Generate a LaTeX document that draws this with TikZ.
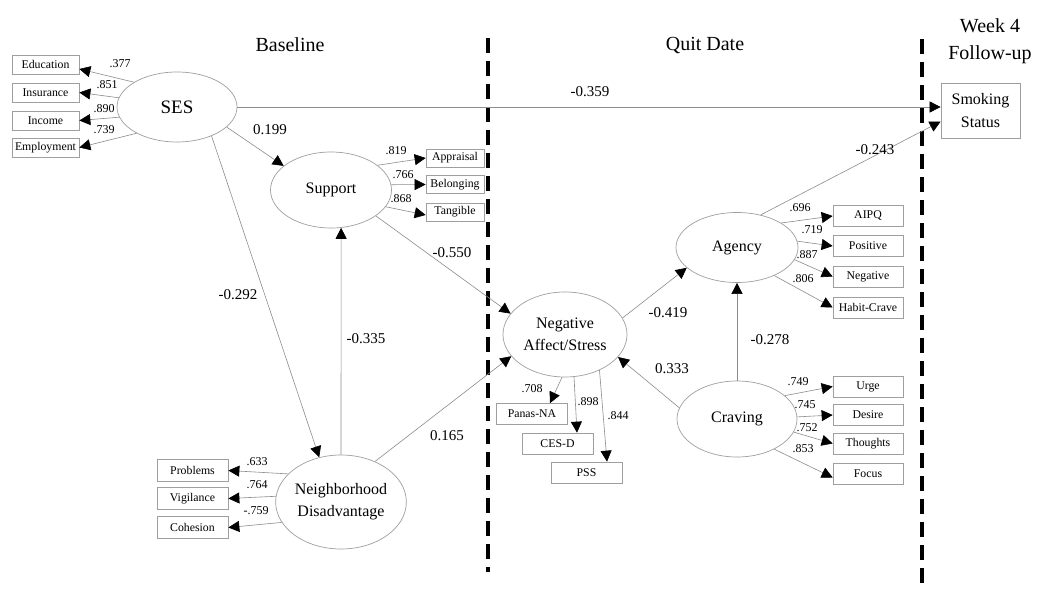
\documentclass[tikz,border=0pt]{standalone}
\usepackage{fontspec}
\setmainfont{Liberation Serif}
\usetikzlibrary{shapes.geometric,arrows.meta}
\tikzset{
 lat/.style={ellipse,draw=gray!75,line width=0.7pt,inner sep=0pt,font=\fontsize{16}{22}\selectfont,align=center},
 ind/.style={rectangle,draw=gray!75,line width=0.7pt,inner sep=0pt,font=\fontsize{11.8}{13}\selectfont},
 conn/.style={draw=gray!90,line width=0.6pt,-{Triangle[length=11pt,width=11pt,color=black]}},
 coef/.style={font=\fontsize{15}{17}\selectfont,inner sep=0pt},
 ldg/.style={font=\fontsize{12}{14}\selectfont,inner sep=0pt},
 head/.style={font=\fontsize{20}{27}\selectfont,align=center,inner sep=0pt},
 divider/.style={line width=4pt,dash pattern=on 15pt off 8pt}
}
\begin{document}
\begin{tikzpicture}[x=1pt,y=-1pt]
\useasboundingbox (0,0) rectangle (1050,589);
\fill[white] (0,0) rectangle (1050,589);

% headers
\node[head] (hBase) at (290,45) {Baseline};
\node[head] (hQuit) at (705,45) {Quit Date};
\node[head] (hWeek) at (990,41) {Week 4\\Follow-up};

% dividers
\coordinate (d1t) at (488,38);
\coordinate (d1b) at (488,572);
\coordinate (d2t) at (922,39);
\coordinate (d2b) at (922,585);
\draw[divider] (d1t) -- (d1b);
\draw[divider] (d2t) -- (d2b);

% latent variables
\node[lat,minimum width=120pt,minimum height=70pt,font=\fontsize{19}{21}\selectfont] (SES) at (177,107) {SES};
\node[lat,minimum width=121pt,minimum height=76pt] (Sup) at (331,190) {Support};
\node[lat,minimum width=127pt,minimum height=94pt] (Nbh) at (341,502) {Neighborhood\\Disadvantage};
\node[lat,minimum width=124pt,minimum height=85pt] (NA) at (565,334.5) {Negative\\Affect/Stress};
\node[lat,minimum width=122pt,minimum height=70pt] (Agy) at (737,247.5) {Agency};
\node[lat,minimum width=120pt,minimum height=76pt] (Crv) at (737,419) {Craving};

% outcome
\node[ind,minimum width=79pt,minimum height=55pt,font=\fontsize{16}{23}\selectfont,align=center] (Smk) at (980.5,110.5) {Smoking\\Status};

% SES indicators
\node[ind,minimum width=67pt,minimum height=19pt] (Edu) at (45.5,64.5) {Education};
\node[ind,minimum width=67pt,minimum height=19pt] (Ins) at (45.5,92.5) {Insurance};
\node[ind,minimum width=67pt,minimum height=19pt] (Inc) at (45.5,120.5) {Income};
\node[ind,minimum width=67pt,minimum height=19pt] (Emp) at (45.5,147.5) {Employment};

% Support indicators
\node[ind,minimum width=58pt,minimum height=18pt] (App) at (455,158) {Appraisal};
\node[ind,minimum width=58pt,minimum height=18pt] (Bel) at (455,184.5) {Belonging};
\node[ind,minimum width=58pt,minimum height=18pt] (Tan) at (455,212) {Tangible};

% Neighborhood indicators
\node[ind,minimum width=71pt,minimum height=22pt] (Prob) at (192.5,470.5) {Problems};
\node[ind,minimum width=71pt,minimum height=22pt] (Vig) at (192.5,498.5) {Vigilance};
\node[ind,minimum width=71pt,minimum height=22pt] (Coh) at (192.5,527.5) {Cohesion};

% Negative affect indicators
\node[ind,minimum width=71pt,minimum height=21pt] (Pan) at (532,414) {Panas-NA};
\node[ind,minimum width=71pt,minimum height=21pt] (Ces) at (557.5,443.5) {CES-D};
\node[ind,minimum width=71pt,minimum height=21pt] (Pss) at (586.5,472.5) {PSS};

% Agency indicators
\node[ind,minimum width=70pt,minimum height=21pt] (Aipq) at (868,216) {AIPQ};
\node[ind,minimum width=70pt,minimum height=21pt] (Pos) at (868,246) {Positive};
\node[ind,minimum width=70pt,minimum height=21pt] (Neg) at (868,276.5) {Negative};
\node[ind,minimum width=70pt,minimum height=21pt] (Hab) at (868,307.5) {Habit-Crave};

% Craving indicators
\node[ind,minimum width=70pt,minimum height=21pt] (Urg) at (868,386.5) {Urge};
\node[ind,minimum width=70pt,minimum height=21pt] (Des) at (868,415) {Desire};
\node[ind,minimum width=70pt,minimum height=21pt] (Tho) at (868,443.5) {Thoughts};
\node[ind,minimum width=70pt,minimum height=21pt] (Foc) at (868,473.5) {Focus};

% measurement paths
\draw[conn] (SES.150) -- ([yshift=-4.5pt]Edu.east);
\draw[conn] (SES.171) -- (Ins.east);
\draw[conn] (SES.190) -- (Inc.east);
\draw[conn] (SES.213) -- (Emp.east);

\draw[conn] (Sup.28) -- (App.west);
\draw[conn] (Sup.5) -- (Bel.west);
\draw[conn] (Sup.-17) -- ([yshift=-3pt]Tan.west);

\draw[conn] (Nbh.152) -- (Prob.east);
\draw[conn] (Nbh.175) -- (Vig.east);
\draw[conn] (Nbh.199) -- (Coh.east);

\draw[conn] (NA.-94) -- ([xshift=18pt]Pan.north);
\draw[conn] (NA.-78) -- ([xshift=19.5pt]Ces.north);
\draw[conn] (NA.-46) -- ([xshift=20.5pt]Pss.north);

\draw[conn] (Agy.29.5) -- (Aipq.west);
\draw[conn] (Agy.6.6) -- (Pos.west);
\draw[conn] (Agy.-12) -- (Neg.west);
\draw[conn] (Agy.-37) -- (Hab.west);

\draw[conn] (Crv.26.6) -- (Urg.west);
\draw[conn] (Crv.2) -- (Des.west);
\draw[conn] (Crv.-13) -- (Tho.west);
\draw[conn] (Crv.-39) -- ([yshift=-4pt]Foc.west);

% structural paths
\draw[conn] (SES.east) -- (SES.east -| Smk.west);
\draw[conn] (Agy.54) -- ([yshift=-11pt]Smk.west);
\draw[conn] (SES.-22) -- (Sup.153);
\draw[conn] (SES.-40) -- (Nbh.116);
\draw[conn] (Nbh.north) -- (Sup.-75);
\draw[conn] (Sup.-30) -- (NA.159);
\draw[conn] (Nbh.50) -- (NA.202);
\draw[conn] (NA.16) -- (Agy.202.5);
\draw[conn] (Crv.169) -- (NA.-23);
\draw[conn] (Crv.north) -- (Agy.south);

% path coefficients
\node[coef] (c1) at (590,92) {-0.359};
\node[coef] (c2) at (875,150) {-0.243};
\node[coef] (c3) at (270,130) {0.199};
\node[coef] (c4) at (238,295) {-0.292};
\node[coef] (c5) at (366,339) {-0.335};
\node[coef] (c6) at (452,253) {-0.550};
\node[coef] (c7) at (447,436) {0.165};
\node[coef] (c8) at (668,313) {-0.419};
\node[coef] (c9) at (672,369) {0.333};
\node[coef] (c10) at (770,340) {-0.278};

% loadings
\node[ldg] (l1) at (120,64) {.377};
\node[ldg] (l2) at (107,85) {.851};
\node[ldg] (l3) at (104,109) {.890};
\node[ldg] (l4) at (104,130) {.739};
\node[ldg] (l5) at (396,151) {.819};
\node[ldg] (l6) at (403,175) {.766};
\node[ldg] (l7) at (401,199) {.868};
\node[ldg] (l8) at (257,462) {.633};
\node[ldg] (l9) at (257,485) {.764};
\node[ldg] (l10) at (256,511) {-.759};
\node[ldg] (l11) at (532,389) {.708};
\node[ldg] (l12) at (588,402) {.898};
\node[ldg] (l13) at (618,416) {.844};
\node[ldg] (l14) at (800,208) {.696};
\node[ldg] (l15) at (812,230) {.719};
\node[ldg] (l16) at (807,255) {.887};
\node[ldg] (l17) at (803,279) {.806};
\node[ldg] (l18) at (798,382) {.749};
\node[ldg] (l19) at (805,405) {.745};
\node[ldg] (l20) at (807,428) {.752};
\node[ldg] (l21) at (803,449) {.853};
\end{tikzpicture}
\end{document}
